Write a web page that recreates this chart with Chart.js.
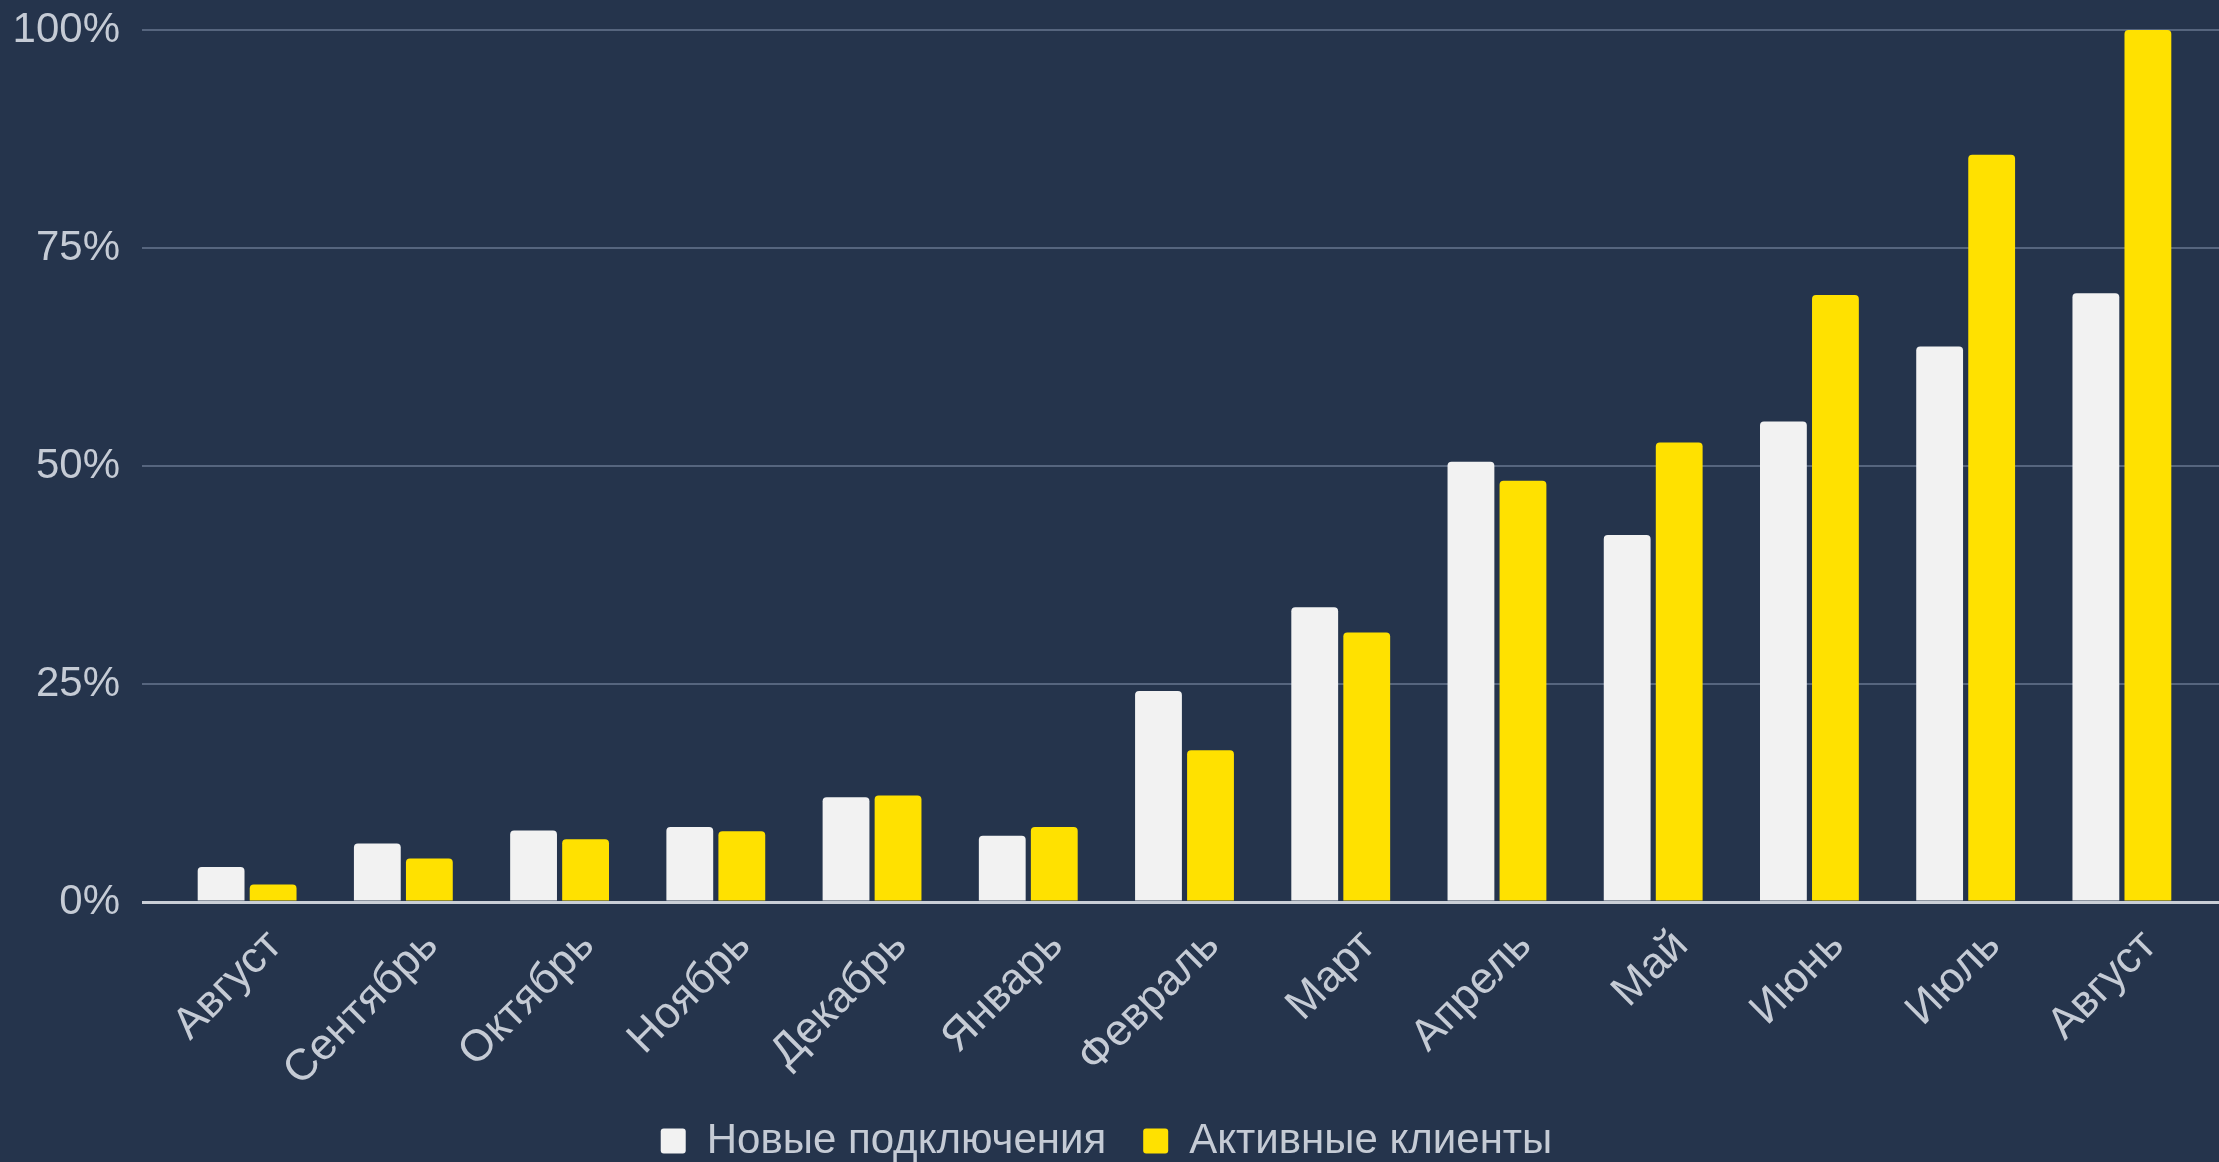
<!DOCTYPE html>
<html>
<head>
<meta charset="utf-8">
<script src="https://cdn.jsdelivr.net/npm/chart.js@4"></script>
<style>
    html, body { margin: 0; padding: 0; background: #25344c; overflow: hidden; }
    #wrap { width: 2219px; height: 1172px; position: relative; }
</style>
</head>
<body>
<div id="wrap"><canvas id="chart"></canvas></div>
<script>
const months = ["Август", "Сентябрь", "Октябрь", "Ноябрь", "Декабрь", "Январь", "Февраль", "Март", "Апрель", "Май", "Июнь", "Июль", "Август"];
const newConnections = [4.0, 6.7, 8.2, 8.6, 12.0, 7.6, 24.2, 33.8, 50.5, 42.1, 55.1, 63.7, 69.8];
const activeClients = [2.0, 5.0, 7.2, 8.1, 12.2, 8.6, 17.4, 30.9, 48.3, 52.7, 69.6, 85.7, 100];
const yTicks = [0, 25, 50, 75, 100];

const textColor = "#c5cbd5";
const gridColor = "#56657e";
const baseColor = "#c9ced6";
const font = "'Liberation Sans', Arial, sans-serif";

// grid: the 0% line is lighter and thicker
const gridOpts = (tickLength) => ({
    color: ctx => ctx.tick && ctx.tick.value === 0 ? baseColor : gridColor,
    lineWidth: ctx => ctx.tick && ctx.tick.value === 0 ? 3 : 2,
    tickLength: tickLength,
    drawTicks: true
});

new Chart(document.getElementById("chart").getContext("2d"), {
    type: "bar",
    data: {
        labels: months,
        datasets: [{
            label: "Новые подключения",
            data: newConnections,
            backgroundColor: "#f2f2f2",
            borderRadius: 4,
            barPercentage: 0.9,
            categoryPercentage: 0.666
        }, {
            label: "Активные клиенты",
            data: activeClients,
            backgroundColor: "#ffe100",
            borderRadius: 4,
            barPercentage: 0.9,
            categoryPercentage: 0.666
        }]
    },
    options: {
        responsive: true,
        maintainAspectRatio: false,
        animation: false,
        layout: { padding: { top: 30, left: 13, right: 19, bottom: 0 } },
        plugins: {
            tooltip: { enabled: false },
            legend: {
                position: "bottom",
                labels: {
                    color: textColor,
                    font: { family: font, size: 42 },
                    boxWidth: 25,
                    boxHeight: 25,
                    padding: 37,
                    useBorderRadius: true,
                    borderRadius: 3
                }
            }
        },
        scales: {
            x: {
                grid: { display: false },
                border: { display: false },
                ticks: {
                    color: textColor,
                    font: { family: font, size: 44 },
                    maxRotation: 45,
                    minRotation: 45,
                    padding: 10,
                    labelOffset: 28,
                    autoSkip: false
                },
                afterFit: s => { s.height = 181; }
            },
            y: {
                min: 0,
                max: 100,
                afterBuildTicks: s => { s.ticks = yTicks.map(v => ({ value: v })); },
                grid: gridOpts(27),
                border: { display: false },
                ticks: {
                    color: textColor,
                    font: { family: font, size: 42 },
                    padding: 22,
                    callback: v => v + "%"
                },
                afterFit: s => { s.width = 156; s.paddingTop = 0; s.paddingBottom = 0; }
            },
            y2: {
                position: "right",
                min: 0,
                max: 100,
                afterBuildTicks: s => { s.ticks = yTicks.map(v => ({ value: v })); },
                grid: gridOpts(19),
                border: { display: false },
                ticks: { display: false },
                afterFit: s => { s.width = 0; s.paddingTop = 0; s.paddingBottom = 0; }
            }
        }
    }
});
</script>
</body>
</html>
